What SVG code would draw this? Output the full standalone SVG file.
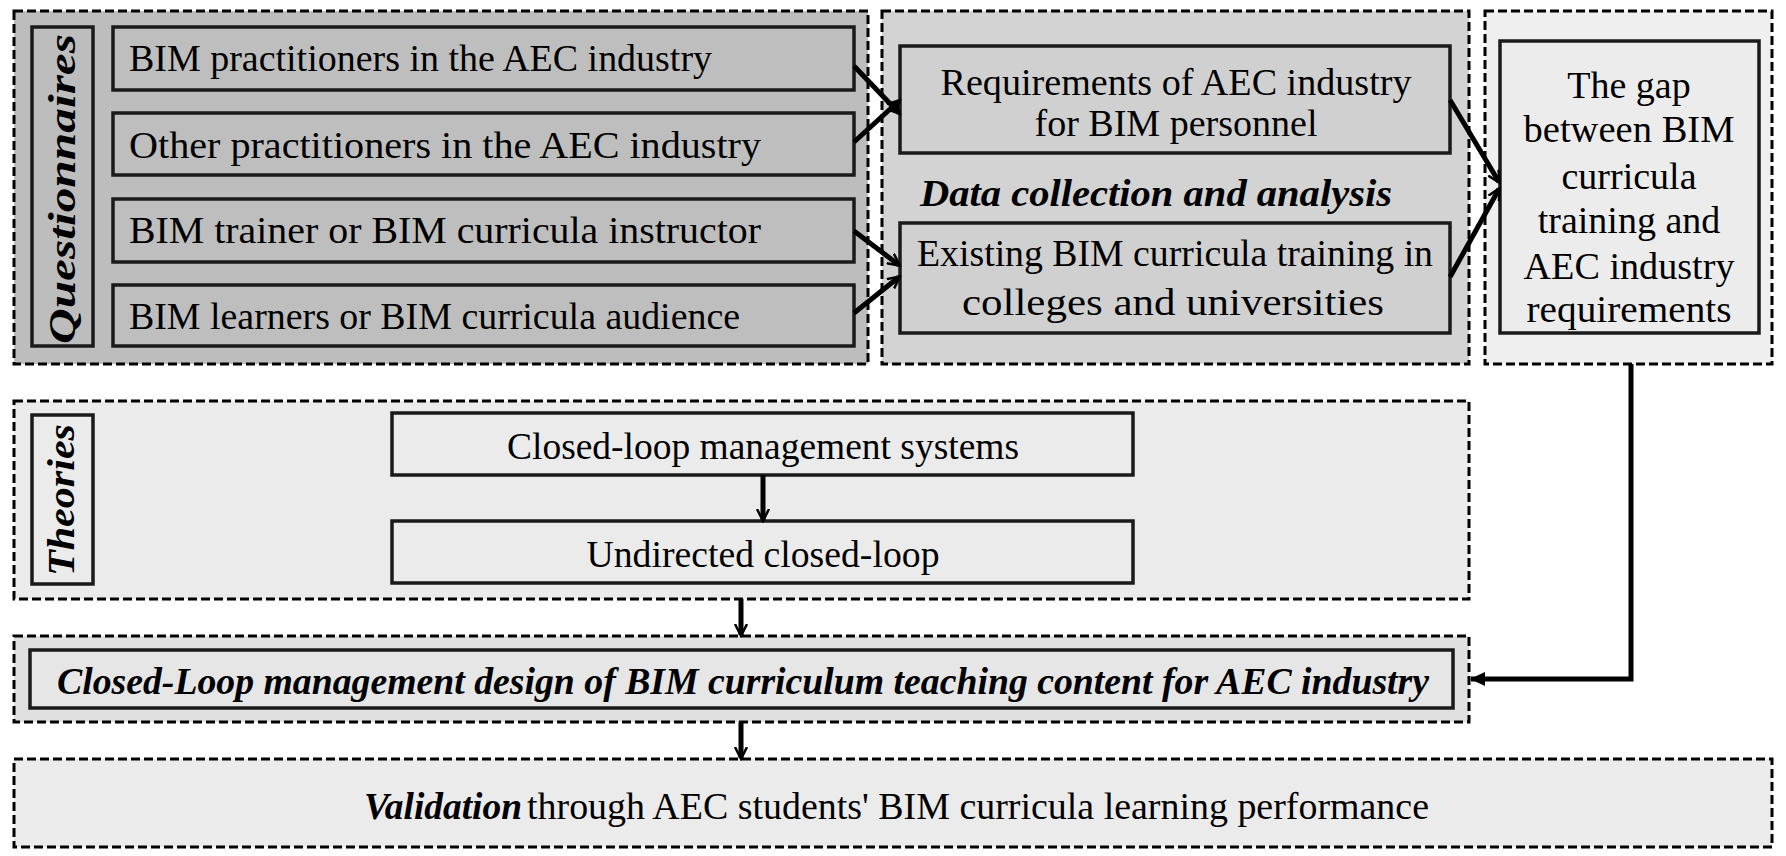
<svg xmlns="http://www.w3.org/2000/svg" width="1786" height="856" viewBox="0 0 1786 856">
<style>
.dash{stroke:#000;stroke-width:3;stroke-dasharray:9 4}
.box{stroke:#1a1a1a;stroke-width:3.5}
text{font-family:"Liberation Serif","Times New Roman","DejaVu Serif",serif;font-size:38px;fill:#000}
.c{text-anchor:middle}
.bi{font-weight:bold;font-style:italic}
.ln{stroke:#000;stroke-width:5;fill:none}
</style>
<defs>
<marker id="ah" markerWidth="14" markerHeight="14" refX="11" refY="7" orient="auto" markerUnits="userSpaceOnUse" viewBox="0 0 14 14">
<path d="M0,1 L12,7 L0,13" fill="none" stroke="#000" stroke-width="2.5"/>
</marker>
<marker id="ah2" markerWidth="16" markerHeight="16" refX="14" refY="8" orient="auto" markerUnits="userSpaceOnUse" viewBox="0 0 16 16">
<path d="M0,1 L15,8 L0,15 Z" fill="#000"/>
</marker>
</defs>
<rect width="1786" height="856" fill="#fff"/>
<g id="questionnaires">
<rect class="dash" x="14" y="11" width="854" height="353" fill="#bdbdbd"/>
<rect class="box" x="32" y="27" width="61" height="319" fill="#bdbdbd"/>
<text class="bi c" font-family="Liberation Serif, serif" transform="translate(75,189) rotate(-90)" font-size="48" textLength="310" lengthAdjust="spacingAndGlyphs">Questionnaires</text>
</g>
<g id="q1"><rect class="box" x="113" y="27" width="741" height="63" fill="#bebebe"/><text font-family="Liberation Serif, serif" x="129" y="71" textLength="583" lengthAdjust="spacingAndGlyphs">BIM practitioners in the AEC industry</text></g>
<g id="q2"><rect class="box" x="113" y="113" width="741" height="62" fill="#bebebe"/><text font-family="Liberation Serif, serif" x="129" y="158" textLength="632" lengthAdjust="spacingAndGlyphs">Other practitioners in the AEC industry</text></g>
<g id="q3"><rect class="box" x="113" y="199" width="741" height="63" fill="#bebebe"/><text font-family="Liberation Serif, serif" x="129" y="243" textLength="632" lengthAdjust="spacingAndGlyphs">BIM trainer or BIM curricula instructor</text></g>
<g id="q4"><rect class="box" x="113" y="285" width="741" height="61" fill="#bebebe"/><text font-family="Liberation Serif, serif" x="129" y="329" textLength="611" lengthAdjust="spacingAndGlyphs">BIM learners or BIM curricula audience</text></g>
<g id="data">
<rect class="dash" x="882" y="11" width="587" height="353" fill="#d3d3d3"/>
<text class="bi c" font-family="Liberation Serif, serif" x="1156" y="206" textLength="472" lengthAdjust="spacingAndGlyphs">Data collection and analysis</text>
</g>
<g id="req"><rect class="box" x="900" y="46" width="550" height="107" fill="#d0d0d0"/>
<text class="c" font-family="Liberation Serif, serif" x="1176" y="95" textLength="471" lengthAdjust="spacingAndGlyphs">Requirements of AEC industry</text>
<text class="c" font-family="Liberation Serif, serif" x="1176" y="136" textLength="283" lengthAdjust="spacingAndGlyphs">for BIM personnel</text></g>
<g id="exist"><rect class="box" x="900" y="223" width="550" height="110" fill="#d0d0d0"/>
<text class="c" font-family="Liberation Serif, serif" x="1175" y="266" textLength="516" lengthAdjust="spacingAndGlyphs">Existing BIM curricula training in</text>
<text class="c" font-family="Liberation Serif, serif" x="1173" y="315" textLength="422" lengthAdjust="spacingAndGlyphs">colleges and universities</text></g>
<g id="gap" font-family="Liberation Serif, serif">
<rect class="dash" x="1485" y="11" width="287" height="353" fill="#efefef"/>
<rect class="box" x="1500" y="41" width="259" height="292" fill="#ececec"/>
<text class="c" x="1629" y="98">The gap</text>
<text class="c" x="1629" y="142" textLength="211" lengthAdjust="spacingAndGlyphs">between BIM</text>
<text class="c" x="1629" y="189">curricula</text>
<text class="c" x="1629" y="233">training and</text>
<text class="c" x="1629" y="279" textLength="211" lengthAdjust="spacingAndGlyphs">AEC industry</text>
<text class="c" x="1629" y="322" textLength="205" lengthAdjust="spacingAndGlyphs">requirements</text>
</g>
<g id="theories">
<rect class="dash" x="14" y="401" width="1455" height="198" fill="#ebebeb"/>
<rect class="box" x="32" y="415" width="61" height="169" fill="#ebebeb"/>
<text class="bi c" font-family="Liberation Serif, serif" transform="translate(74,500) rotate(-90)" font-size="36" textLength="152" lengthAdjust="spacingAndGlyphs">Theories</text>
</g>
<g id="clms"><rect class="box" x="392" y="413" width="741" height="62" fill="#ebebeb"/><text class="c" font-family="Liberation Serif, serif" x="763" y="459" textLength="512" lengthAdjust="spacingAndGlyphs">Closed-loop management systems</text></g>
<g id="ucl"><rect class="box" x="392" y="521" width="741" height="62" fill="#ebebeb"/><text class="c" font-family="Liberation Serif, serif" x="763" y="567" textLength="353" lengthAdjust="spacingAndGlyphs">Undirected closed-loop</text></g>
<g id="design">
<rect class="dash" x="14" y="636" width="1455" height="86" fill="#e0e0e0"/>
<rect class="box" x="30" y="650" width="1423" height="58" fill="#e6e6e6"/>
<text class="bi c" font-family="Liberation Serif, serif" x="743" y="694" textLength="1372" lengthAdjust="spacingAndGlyphs">Closed-Loop management design of BIM curriculum teaching content for AEC industry</text>
</g>
<g id="validation">
<rect class="dash" x="14" y="759" width="1758" height="88" fill="#ebebeb"/>
<text font-family="Liberation Serif, serif" x="364" y="819"><tspan class="bi" textLength="158" lengthAdjust="spacingAndGlyphs">Validation</tspan><tspan x="527" textLength="902" lengthAdjust="spacingAndGlyphs">through AEC students' BIM curricula learning performance</tspan></text>
</g>
<g id="connectors">
<line class="ln" x1="854" y1="66" x2="899" y2="113" marker-end="url(#ah)"/>
<line class="ln" x1="854" y1="142" x2="899" y2="101" marker-end="url(#ah)"/>
<line class="ln" x1="854" y1="231" x2="899" y2="265" marker-end="url(#ah)"/>
<line class="ln" x1="854" y1="313" x2="899" y2="277" marker-end="url(#ah)"/>
<line class="ln" x1="1450" y1="100" x2="1499" y2="182" marker-end="url(#ah)"/>
<line class="ln" x1="1450" y1="277" x2="1499" y2="189" marker-end="url(#ah)"/>
<line class="ln" x1="763" y1="475" x2="763" y2="520" marker-end="url(#ah)"/>
<line class="ln" x1="741" y1="599" x2="741" y2="635" marker-end="url(#ah)"/>
<line class="ln" x1="741" y1="722" x2="741" y2="758" marker-end="url(#ah)"/>
<path d="M1631,364 V679 H1471" stroke="#000" stroke-width="5" fill="none" marker-end="url(#ah2)"/>
</g>
</svg>
